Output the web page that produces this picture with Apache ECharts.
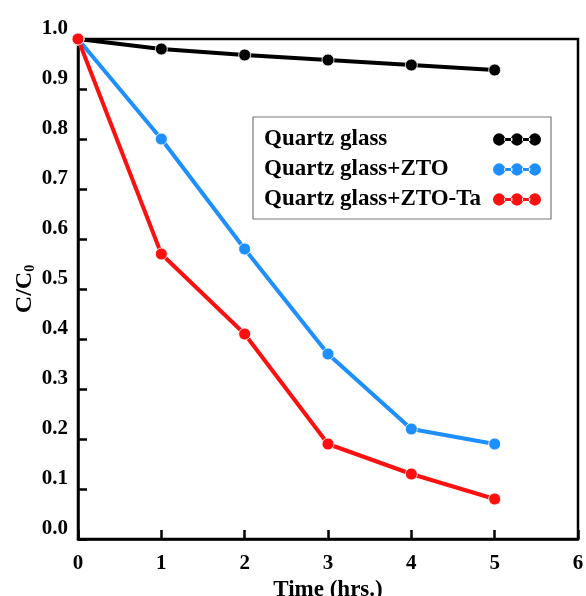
<!DOCTYPE html>
<html>
<head>
<meta charset="utf-8">
<script src="https://cdn.jsdelivr.net/npm/echarts@6/dist/echarts.min.js"></script>
<style>
html,body{margin:0;padding:0;background:#fff;}
#chart{width:586px;height:596px;}
</style>
</head>
<body>
<div id="chart"></div>
<script>
const timeHours = [0, 1, 2, 3, 4, 5];
const quartzGlass = [1.0, 0.98, 0.968, 0.958, 0.948, 0.938];
const quartzZTO = [1.0, 0.80, 0.58, 0.37, 0.22, 0.19];
const quartzZTOTa = [1.0, 0.57, 0.41, 0.19, 0.13, 0.08];
const seriesNames = ['Quartz glass', 'Quartz glass+ZTO', 'Quartz glass+ZTO-Ta'];
const seriesColors = ['#000000', '#1e8fff', '#ff1010'];
const xTicks = [0, 1, 2, 3, 4, 5, 6];
const yTicks = [0.0, 0.1, 0.2, 0.3, 0.4, 0.5, 0.6, 0.7, 0.8, 0.9, 1.0];

const font = '"Liberation Serif", "Times New Roman", serif';
const iconPath = 'path://M0,6.5A6,6 0 1,0 12,6.5A6,6 0 1,0 0,6.5Z' +
  'M11,5L19,5L19,8L11,8Z' +
  'M17.5,6.5A6,6 0 1,0 29.5,6.5A6,6 0 1,0 17.5,6.5Z' +
  'M28.5,5L36.5,5L36.5,8L28.5,8Z' +
  'M35,6.5A6,6 0 1,0 47,6.5A6,6 0 1,0 35,6.5Z';

function pairs(vals){ return timeHours.map((t,i)=>[t, vals[i]]); }
const allData = [quartzGlass, quartzZTO, quartzZTOTa];

const chart = echarts.init(document.getElementById('chart'), null, {renderer:'canvas'});
chart.setOption({
  animation: false,
  backgroundColor: '#fff',
  grid: {left: 78, right: 8, top: 39, bottom: 57, outerBoundsMode: 'none', containLabel: false,
    show: true, borderColor: '#000', borderWidth: 2.5, backgroundColor: 'transparent'},
  legend: {
    orient: 'vertical',
    left: 253, top: 117,
    align: 'right',
    padding: [11, 10, 8, 11],
    itemGap: 7,
    itemWidth: 48, itemHeight: 13,
    borderColor: '#777', borderWidth: 1.2,
    icon: iconPath,
    itemStyle: {borderWidth: 0},
    data: seriesNames,
    formatter: function(name){ return '{a|' + name + '}'; },
    textStyle: {
      fontFamily: font, fontWeight: 'bold', fontSize: 23, color: '#000',
      rich: {a: {fontFamily: font, fontWeight: 'bold', fontSize: 23, width: 224, align: 'left', lineHeight: 23, color: '#000'}}
    }
  },
  xAxis: {
    type: 'value', min: 0, max: 6, interval: 1,
    name: 'Time (hrs.)', nameLocation: 'middle', nameGap: 35,
    nameTextStyle: {fontFamily: font, fontWeight: 'bold', fontSize: 23, color: '#000'},
    axisLine: {lineStyle: {color: '#000', width: 2.5}},
    axisTick: {inside: true, length: 9, lineStyle: {color: '#000', width: 2.5}},
    axisLabel: {margin: 14, fontFamily: font, fontWeight: 'bold', fontSize: 21, color: '#000',
      formatter: function(v){ return xTicks.indexOf(v) >= 0 ? String(v) : ''; }},
    splitLine: {show: false}
  },
  yAxis: {
    type: 'value', min: 0, max: 1.0, interval: 0.1,
    name: '{a|C/C}{b|0}', nameLocation: 'middle', nameGap: 40, nameRotate: 90,
    nameMoveOverlap: false,
    nameTextStyle: {fontFamily: font, fontWeight: 'bold', fontSize: 23, color: '#000',
      rich: {a: {fontFamily: font, fontWeight: 'bold', fontSize: 24, color: '#000', lineHeight: 26},
             b: {fontFamily: font, fontWeight: 'bold', fontSize: 14, color: '#000', padding: [10, 0, 0, 0]}}},
    axisLine: {lineStyle: {color: '#000', width: 2.5}},
    axisTick: {inside: true, length: 9, lineStyle: {color: '#000', width: 2.5}},
    axisLabel: {margin: 10, verticalAlign: 'bottom', fontFamily: font, fontWeight: 'bold', fontSize: 21, color: '#000',
      formatter: function(v){ const i = yTicks.findIndex(t => Math.abs(t - v) < 1e-6); return i >= 0 ? yTicks[i].toFixed(1) : ''; }},
    splitLine: {show: false}
  },
  series: allData.map((vals, i) => ({
    name: seriesNames[i], type: 'line', data: pairs(vals),
    symbol: 'circle', symbolSize: 12, clip: false,
    lineStyle: {color: seriesColors[i], width: 4},
    itemStyle: {color: seriesColors[i], borderColor: '#fff', borderWidth: 0.8},
    z: 3 + i
  }))
});
</script>
</body>
</html>
